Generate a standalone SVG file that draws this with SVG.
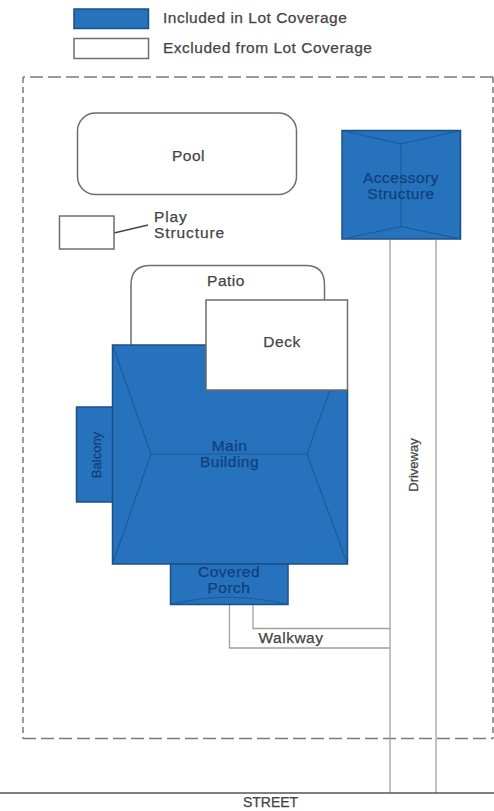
<svg xmlns="http://www.w3.org/2000/svg" width="494" height="811" viewBox="0 0 494 811">
<style>
.t{font-family:"Liberation Sans",Arial,sans-serif;font-size:15.500px;letter-spacing:.5px;fill:#444;stroke:#444;stroke-width:.25;text-anchor:middle}
.st{text-anchor:start}
.d{fill:#123f7c;stroke:#123f7c}
.b{fill:#2672bd;stroke:#1c4f85;stroke-width:1.5}
.w{fill:#fff;stroke:#6e6e6e;stroke-width:1.5}
.l{fill:none;stroke:#a0a0a0;stroke-width:1.3}
.r{fill:none;stroke:#1c5a9c;stroke-width:1.1}
.s{fill:none;stroke:#7a7a7a;stroke-width:1.5;stroke-dasharray:13 5}
</style>
<rect width="494" height="811" fill="#fff"/>
<g id="legend-included"><rect class="b" x="74" y="9" width="74.500" height="19.500"/><text class="t st" x="163" y="23">Included in Lot Coverage</text></g>
<g id="legend-excluded"><rect class="w" x="74" y="38.500" width="74.500" height="20"/><text class="t st" x="163" y="52.500">Excluded from Lot Coverage</text></g>
<g id="lot"><path class="s" d="M493 77H23M23 738.500H493"/><path class="s" d="M493 77V738.500M23 77V738.500" style="stroke-dasharray:6 4"/></g>
<g id="connectors">
<path class="l" d="M390 240V793M436 240V793"/>
<path class="l" d="M253 605V628.500H390M229.500 605V648H390"/>
<path d="M114 233L148 225" fill="none" stroke="#444" stroke-width="1.300"/>
<path d="M0 793H494" stroke="#555" stroke-width="1.300" fill="none"/>
</g>
<g id="pool"><rect class="w" x="77.500" y="113" width="219" height="81.500" rx="18"/><text class="t" x="188.500" y="160.500">Pool</text></g>
<g id="play"><rect class="w" x="59.500" y="216" width="54.500" height="33"/><text class="t st" x="154" y="221.500" style="letter-spacing:.9px">Play<tspan x="154" dy="16">Structure</tspan></text></g>
<g id="accessory"><rect class="b" x="342" y="130.500" width="118.500" height="108.500"/><path class="r" d="M342 130.500L401 144L460.500 130.500M401 144V226.500M342 239L401 226.500L460.500 239"/><text class="t d" x="401" y="183">Accessory<tspan x="401" dy="16">Structure</tspan></text></g>
<g id="patio"><path class="w" d="M131 346V285Q131 265.500 150 265.500H306Q324.500 265.500 324.500 285V300"/><text class="t" x="226" y="286">Patio</text></g>
<g id="balcony"><rect class="b" x="76.500" y="407" width="36.500" height="95"/><text class="t d" transform="translate(100.500 455) rotate(-90)" style="font-size:13px;letter-spacing:0">Balcony</text></g>
<g id="main-building"><path class="b" d="M112.500 345H206V390H347.500V564H112.500Z"/><path class="r" d="M112.500 345L151 454H307L347.500 564M151 454L112.500 564M307 454L330 390"/><text class="t d" x="229.500" y="451">Main<tspan x="229.500" dy="16">Building</tspan></text></g>
<g id="deck"><rect class="w" x="206" y="300" width="141.500" height="90"/><text class="t" x="282" y="347">Deck</text></g>
<g id="porch"><rect class="b" x="170.500" y="564" width="117.500" height="40.500"/><path class="r" d="M170.500 604.500Q229 590 288 604.500"/><text class="t d" x="229" y="577">Covered<tspan x="229" dy="16">Porch</tspan></text></g>
<g id="labels"><text class="t" x="291" y="642.500">Walkway</text><text class="t" transform="translate(418 465) rotate(-90)" style="font-size:13px;letter-spacing:0">Driveway</text><text class="t" x="270.500" y="807" style="font-size:14px;letter-spacing:0">STREET</text></g>
</svg>
